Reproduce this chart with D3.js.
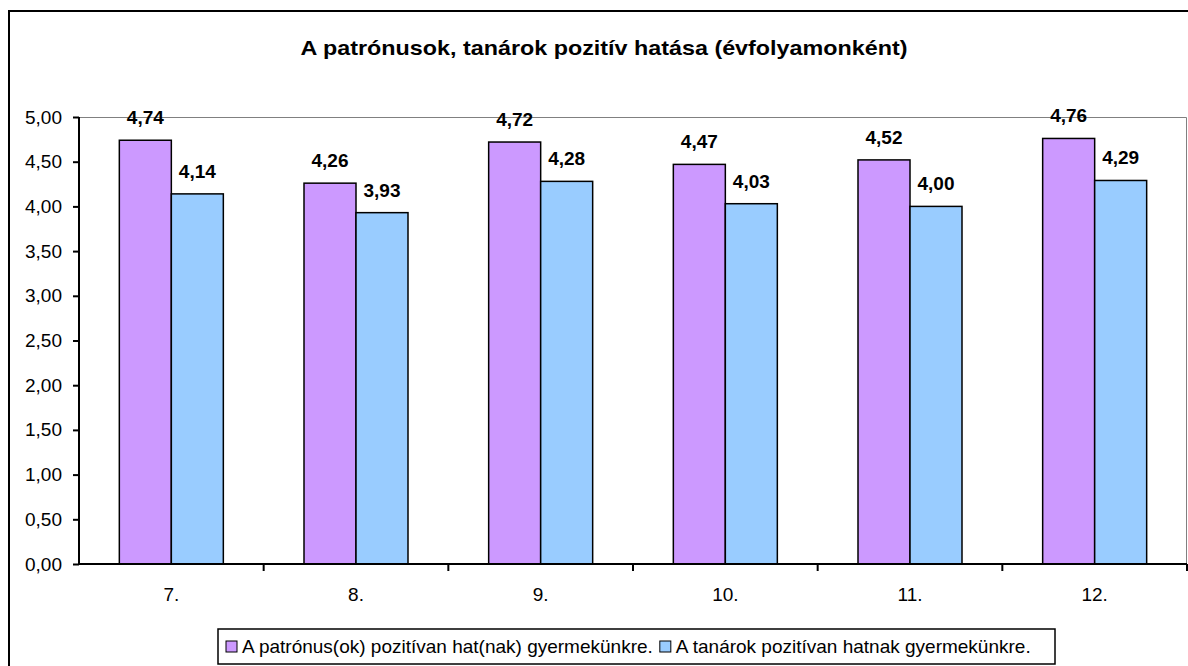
<!DOCTYPE html>
<html>
<head>
<meta charset="utf-8">
<script src="https://cdn.jsdelivr.net/npm/d3@7"></script>
<style>
  body { margin: 0; background: #fff; }
  svg { display: block; font-family: "Liberation Sans", Arial, sans-serif; }
</style>
</head>
<body>
<div id="chart"></div>
<script>
// data
var categories = ["7.", "8.", "9.", "10.", "11.", "12."];
var seriesNames = ["A patrónus(ok) pozitívan hat(nak) gyermekünkre.", "A tanárok pozitívan hatnak gyermekünkre."];
var patronus = [4.74, 4.26, 4.72, 4.47, 4.52, 4.76];
var tanarok = [4.14, 3.93, 4.28, 4.03, 4.00, 4.29];
var yTicks = [0, 0.5, 1, 1.5, 2, 2.5, 3, 3.5, 4, 4.5, 5];
var colors = ["#CC99FF", "#99CCFF"];

var W = 1188, H = 666;
var margin = { top: 117, right: 1, bottom: 102, left: 79 };
var width = W - margin.left - margin.right;
var height = H - margin.top - margin.bottom;

var fmt = function(v) { return v.toFixed(2).replace(".", ","); };

var svg = d3.select("#chart").append("svg")
    .attr("width", W)
    .attr("height", H);

// outer chart border
svg.append("rect")
    .attr("x", 9).attr("y", 11)
    .attr("width", W + 20).attr("height", H + 20)
    .attr("fill", "none")
    .attr("stroke", "#000")
    .attr("stroke-width", 2);

svg.append("text")
    .attr("x", 604)
    .attr("y", 55)
    .attr("text-anchor", "middle")
    .attr("textLength", 607)
    .attr("lengthAdjust", "spacingAndGlyphs")
    .style("font-size", "21px")
    .style("font-weight", "bold")
    .text("A patrónusok, tanárok pozitív hatása (évfolyamonként)");

var g = svg.append("g")
    .attr("transform", "translate(" + margin.left + "," + margin.top + ")");

var x = d3.scaleBand().domain(categories).range([0, width]).paddingInner(0).paddingOuter(0);
var x1 = d3.scaleBand().domain([0, 1]).range([x.bandwidth() / 2 - 52, x.bandwidth() / 2 + 52]);
var y = d3.scaleLinear().domain([0, 5]).range([height, 0]);

// plot area border (gray top/right)
g.append("path")
    .attr("d", "M0,0.5H" + (width - 0.5) + "V" + height)
    .attr("fill", "none")
    .attr("stroke", "#808080")
    .attr("stroke-width", 1);

var rows = categories.map(function(c, i) { return { cat: c, vals: [patronus[i], tanarok[i]] }; });

var grp = g.selectAll(".grp")
    .data(rows)
    .enter().append("g")
    .attr("class", "grp")
    .attr("transform", function(d) { return "translate(" + x(d.cat) + ",0)"; });

grp.selectAll("rect")
    .data(function(d) { return d.vals; })
    .enter().append("rect")
    .attr("x", function(d, i) { return x1(i); })
    .attr("y", function(d) { return y(d); })
    .attr("width", x1.bandwidth())
    .attr("height", function(d) { return height - y(d); })
    .attr("fill", function(d, i) { return colors[i]; })
    .attr("stroke", "#000")
    .attr("stroke-width", 1.5);

grp.selectAll("text")
    .data(function(d) { return d.vals; })
    .enter().append("text")
    .attr("x", function(d, i) { return x1(i) + x1.bandwidth() / 2; })
    .attr("y", function(d) { return y(d) - 16; })
    .attr("text-anchor", "middle")
    .style("font-size", "19px")
    .style("font-weight", "bold")
    .text(function(d) { return fmt(d); });

// y axis
var yAxis = g.append("g")
    .call(d3.axisLeft(y).tickValues(yTicks).tickFormat(fmt).tickSize(6).tickPadding(11));
yAxis.select(".domain").attr("stroke", "#000").attr("stroke-width", 2).attr("d", "M0,0V" + height);
yAxis.selectAll(".tick line").attr("stroke", "#000").attr("stroke-width", 2);
yAxis.selectAll(".tick text")
    .style("font-size", "19px")
    .style("font-family", "'Liberation Sans', Arial, sans-serif")
    .attr("fill", "#000");

// x axis
var xAxis = g.append("g")
    .attr("transform", "translate(0," + height + ")")
    .call(d3.axisBottom(x).tickSize(0).tickPadding(24));
xAxis.select(".domain").attr("stroke", "#000").attr("stroke-width", 2).attr("d", "M0,0H" + width);
xAxis.selectAll(".tick text")
    .style("font-size", "19px")
    .style("font-family", "'Liberation Sans', Arial, sans-serif")
    .attr("fill", "#000");
// tick marks between categories
g.selectAll(".xsep")
    .data(categories.slice(1).concat(["end"]))
    .enter().append("line")
    .attr("x1", function(d, i) { return x.bandwidth() * (i + 1); })
    .attr("x2", function(d, i) { return x.bandwidth() * (i + 1); })
    .attr("y1", height)
    .attr("y2", height + 7)
    .attr("stroke", "#000")
    .attr("stroke-width", 2);

// legend
var legend = svg.append("g").attr("transform", "translate(218,629)");
legend.append("rect")
    .attr("width", 837).attr("height", 35)
    .attr("fill", "#fff")
    .attr("stroke", "#000")
    .attr("stroke-width", 1.5);

var lx = 8;
seriesNames.forEach(function(name, i) {
    var item = legend.append("g").attr("transform", "translate(" + lx + ",0)");
    item.append("rect")
        .attr("x", 0).attr("y", 12)
        .attr("width", 11).attr("height", 11)
        .attr("fill", colors[i])
        .attr("stroke", "#000")
        .attr("stroke-width", 1);
    var t = item.append("text")
        .attr("x", 16).attr("y", 24)
        .style("font-size", "19px")
        .text(name);
    lx += 16 + t.node().getComputedTextLength() + 7;
});
</script>
</body>
</html>
